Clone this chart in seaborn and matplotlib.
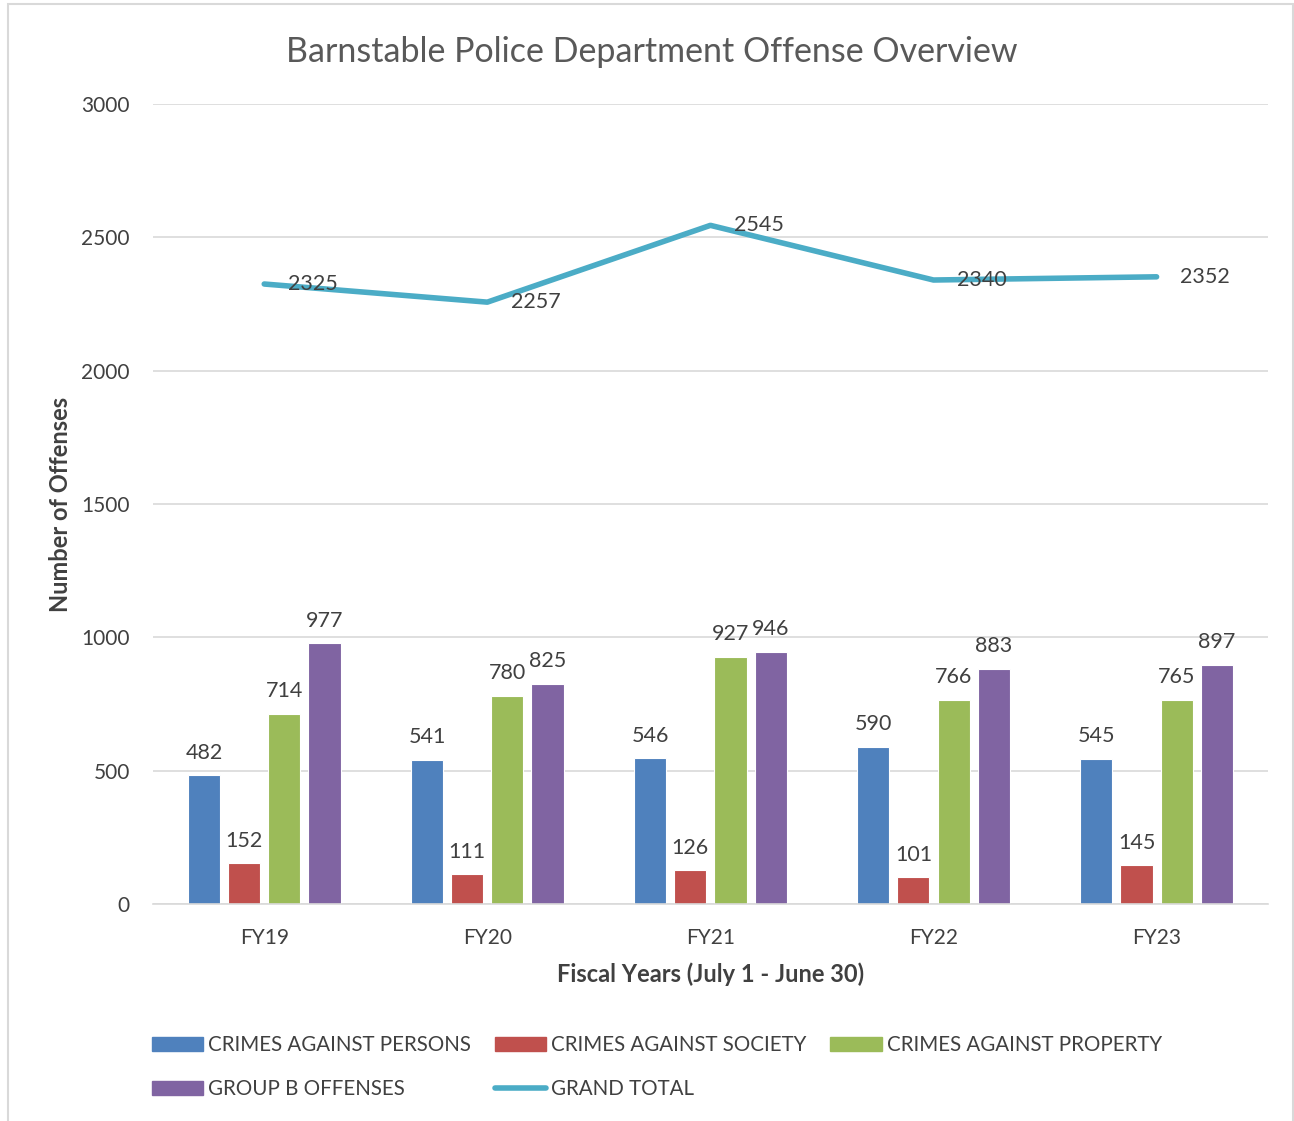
import pandas as pd
import matplotlib.pyplot as plt
import seaborn as sns
from matplotlib.patches import Rectangle
from matplotlib.lines import Line2D

# chart data
years = ["FY19", "FY20", "FY21", "FY22", "FY23"]
persons = [482, 541, 546, 590, 545]
society = [152, 111, 126, 101, 145]
property_ = [714, 780, 927, 766, 765]
group_b = [977, 825, 946, 883, 897]
grand_total = [2325, 2257, 2545, 2340, 2352]

series_names = ["CRIMES AGAINST PERSONS", "CRIMES AGAINST SOCIETY",
                "CRIMES AGAINST PROPERTY", "GROUP B OFFENSES"]
colors = ["#4F81BD", "#C0504D", "#9BBB59", "#8064A2"]
line_color = "#4BACC6"
text_color = "#404040"

sns.set_theme(style="white")
plt.rcParams['font.family'] = ['Lato', 'DejaVu Sans']

rows = []
for name, vals in zip(series_names, [persons, society, property_, group_b]):
    for y, v in zip(years, vals):
        rows.append({"year": y, "series": name, "value": v})
df = pd.DataFrame(rows)

fig = plt.figure(figsize=(12.94, 11.21), dpi=100)
ax = fig.add_axes([0.118, 0.1936, 0.862, 0.7136])

sns.barplot(data=df, x="year", y="value", hue="series", hue_order=series_names,
            palette=colors, width=0.72, gap=0.2, saturation=1, ax=ax,
            edgecolor="white", linewidth=0.8, legend=False)

for cont in ax.containers:
    ax.bar_label(cont, padding=9, fontsize=15.5, color=text_color)

sns.lineplot(x=list(range(len(years))), y=grand_total, color=line_color,
             linewidth=4, ax=ax, legend=False)
for i, v in enumerate(grand_total):
    ax.annotate(str(v), (i, v), xytext=(17, 0), textcoords="offset points",
                ha="left", va="center", fontsize=15.5, color=text_color)

ax.set_xlim(-0.5, 4.5)
ax.set_ylim(0, 3000)
ax.set_yticks(range(0, 3001, 500))
ax.grid(axis="y", color="#D9D9D9", linewidth=1.2)
ax.set_axisbelow(True)
for s in ["top", "right", "left"]:
    ax.spines[s].set_visible(False)
ax.spines["bottom"].set_color("#D9D9D9")
ax.spines["bottom"].set_linewidth(1.2)
ax.tick_params(axis="x", length=0, labelsize=15, colors=text_color, pad=17)
ax.tick_params(axis="y", length=0, labelsize=15, colors=text_color, pad=16.5)

ax.set_xlabel("Fiscal Years (July 1 - June 30)", fontsize=17, fontweight="bold",
              color=text_color, labelpad=11)
ax.set_ylabel("Number of Offenses", fontsize=17, fontweight="bold",
              color=text_color, labelpad=7)
fig.text(0.504, 0.954, "Barnstable Police Department Offense Overview",
         ha="center", va="center", fontsize=24.5, color="#595959")

# legend fills column by column, so order the entries to read row by row
patches = [Rectangle((0, 0), 1, 1, color=c) for c in colors]
gt_line = Line2D([0], [0], color=line_color, linewidth=4)
handles = [patches[0], patches[3], patches[1], gt_line, patches[2]]
labels = [series_names[0], series_names[3], series_names[1], "GRAND TOTAL", series_names[2]]
fig.legend(handles, labels, ncol=3, loc="upper left", bbox_to_anchor=(0.103, 0.093),
           frameon=False, fontsize=14.8, labelcolor=text_color, handlelength=2.5,
           handleheight=0.65, handletextpad=0.25, columnspacing=1.15, labelspacing=1.15)

# chart border
fig.patches.append(Rectangle((0.006, -0.01), 0.993, 1.006, transform=fig.transFigure,
                             fill=False, edgecolor="#D9D9D9", linewidth=1.5))

fig.savefig("out.png", dpi=100)
